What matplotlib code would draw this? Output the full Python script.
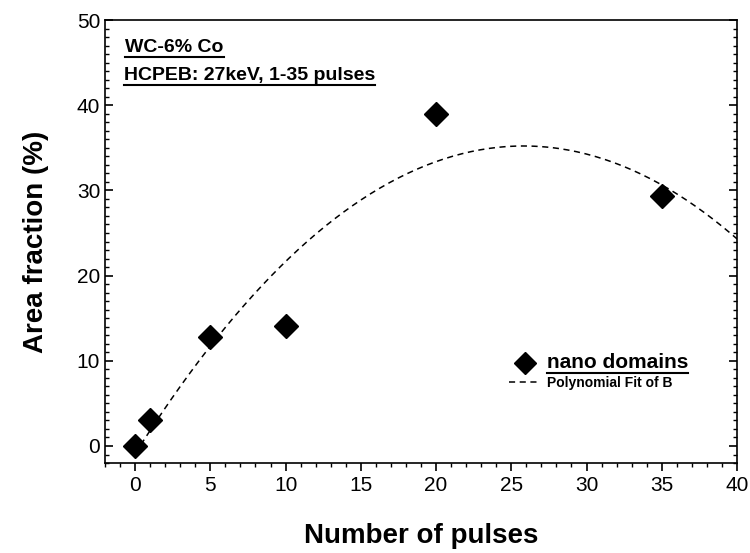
import numpy as np
import matplotlib.pyplot as plt
from matplotlib.lines import Line2D

pulses = [0, 1, 5, 10, 20, 35]
area_fraction = [0.0, 3.0, 12.8, 14.1, 39.0, 29.4]

x_ticks = [0, 5, 10, 15, 20, 25, 30, 35, 40]
y_ticks = [0, 10, 20, 30, 40, 50]

plt.rcParams['font.family'] = ['Liberation Sans', 'DejaVu Sans']

fig = plt.figure(figsize=(7.5, 5.53), dpi=100)
ax = fig.add_axes([0.14, 0.1627, 0.8427, 0.8011])

# quadratic fit of the measured points, as drawn in the original
coef = np.polyfit(pulses, area_fraction, 2)
xfit = np.linspace(0, 40, 200)
ax.plot(xfit, np.polyval(coef, xfit), color='black', lw=1.1, ls=(0, (4, 3)),
        label='Polynomial Fit of B')
ax.plot(pulses, area_fraction, 'D', color='black', ms=12, label='nano domains')

ax.set_xlim(-2, 40)
ax.set_ylim(-2, 50)
ax.set_xticks(x_ticks)
ax.set_yticks(y_ticks)
ax.set_xticks(np.arange(-2, 41, 1), minor=True)
ax.set_yticks(np.arange(-2, 51, 1), minor=True)
ax.tick_params(axis='x', which='both', direction='out', top=False)
ax.tick_params(axis='y', which='both', direction='in', right=True)
ax.tick_params(which='major', length=6, width=1.2, labelsize=15)
ax.tick_params(which='minor', length=3, width=1)
for sp in ax.spines.values():
    sp.set_linewidth(1.2)

ax.set_xlabel('Number of pulses', fontsize=20, fontweight='bold', labelpad=20)
ax.set_ylabel('Area fraction (%)', fontsize=20, fontweight='bold', labelpad=20)

t1 = ax.text(0.032, 0.938, 'WC-6% Co', transform=ax.transAxes, fontsize=14,
             fontweight='bold', va='center')
t2 = ax.text(0.03, 0.874, 'HCPEB: 27keV, 1-35 pulses', transform=ax.transAxes,
             fontsize=14, fontweight='bold', va='center')

handles = [Line2D([], [], marker='D', color='black', ls='none', ms=11),
           Line2D([], [], color='black', lw=1.1, ls=(0, (4, 3)))]
leg = ax.legend(handles, ['nano domains', 'Polynomial Fit of B'],
                loc='lower left', bbox_to_anchor=(0.62, 0.136), frameon=False,
                handlelength=2.2, handletextpad=0.5, labelspacing=0.3)
leg.get_texts()[0].set_fontsize(15)
leg.get_texts()[0].set_fontweight('bold')
leg.get_texts()[1].set_fontsize(10)
leg.get_texts()[1].set_fontweight('bold')

# underline the annotation texts
fig.canvas.draw()
r = fig.canvas.get_renderer()
inv = fig.transFigure.inverted()
for t in [t1, t2, leg.get_texts()[0]]:
    bb = t.get_window_extent(r)
    (x0, y0), (x1, _) = inv.transform([[bb.x0, bb.y0], [bb.x1, bb.y1]])
    fig.add_artist(Line2D([x0, x1], [y0 - 0.002, y0 - 0.002], color='black',
                          lw=1.5, transform=fig.transFigure))

fig.savefig('out.png', dpi=100)
